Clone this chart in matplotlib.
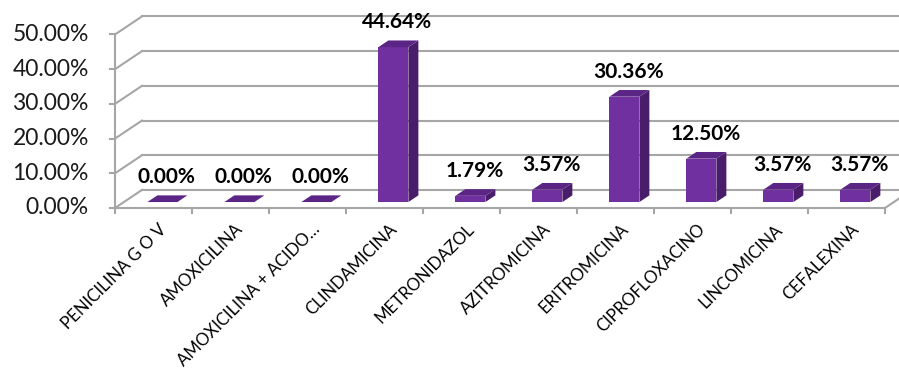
import matplotlib.pyplot as plt
from matplotlib.patches import Polygon

categorias = ["PENICILINA G O V", "AMOXICILINA", "AMOXICILINA + ACIDO…",
              "CLINDAMICINA", "METRONIDAZOL", "AZITROMICINA", "ERITROMICINA",
              "CIPROFLOXACINO", "LINCOMICINA", "CEFALEXINA"]
porcentajes = [0.00, 0.00, 0.00, 44.64, 1.79, 3.57, 30.36, 12.50, 3.57, 3.57]
ticks_y = [0, 10, 20, 30, 40, 50]

FRENTE = "#7030A0"
LADO = "#4A1D6B"
TECHO = "#5B2585"
GRIS = "#A6A6A6"
FUENTE = "Lato"

# profundidad del piso (en unidades de categoria y de porcentaje)
DX, DY = 0.35, 5.2
# posicion y grosor de cada barra dentro de esa profundidad
T0, T1 = 0.33, 0.70
ANCHO = 0.39

fig = plt.figure(figsize=(8.99, 3.73), dpi=100)
ax = fig.add_axes([0, 0, 1, 1])
ax.set_xlim(-1.4935, 10.182)
ax.set_ylim(-47.55, 59.94)
ax.axis("off")

n = len(categorias)

# pared del fondo y pared lateral
for t in ticks_y:
    ax.plot([DX, n + DX + 0.5], [t + DY, t + DY], color=GRIS, lw=1.5, zorder=1)
    ax.plot([0, DX], [t, t + DY], color=GRIS, lw=1.5, zorder=1)
    ax.plot([-0.06, 0], [t, t], color=GRIS, lw=1.5, zorder=1)
    ax.text(-0.34, t, f"{t:.2f}%", ha="right", va="center", fontsize=16.5,
            family=FUENTE, color="#1a1a1a")
ax.plot([0, 0], [0, ticks_y[-1]], color=GRIS, lw=1.5, zorder=1)

# piso
ax.plot([0, n], [0, 0], color=GRIS, lw=1.5, zorder=1)
ax.plot([n, n + DX], [0, DY], color=GRIS, lw=1.5, zorder=1)
for i in range(n + 1):
    ax.plot([i, i], [0, -1.5], color=GRIS, lw=1.5, zorder=1)

# barras 3D: frente, lado y techo
for i, v in enumerate(porcentajes):
    x0 = i + 0.5 - ANCHO / 2 + T0 * DX
    x1 = x0 + ANCHO
    y0 = T0 * DY
    dx = (T1 - T0) * DX
    dy = (T1 - T0) * DY
    frente = [(x0, y0), (x1, y0), (x1, y0 + v), (x0, y0 + v)]
    lado = [(x1, y0), (x1 + dx, y0 + dy), (x1 + dx, y0 + dy + v), (x1, y0 + v)]
    techo = [(x0, y0 + v), (x1, y0 + v), (x1 + dx, y0 + dy + v), (x0 + dx, y0 + dy + v)]
    ax.add_patch(Polygon(lado, closed=True, fc=LADO, ec="none", zorder=3))
    ax.add_patch(Polygon(frente, closed=True, fc=FRENTE, ec="none", zorder=3))
    ax.add_patch(Polygon(techo, closed=True, fc=TECHO, ec="none", zorder=3))
    ax.text((x0 + x1) / 2 + 0.05, y0 + dy + v + 5.2, f"{v:.2f}%", ha="center",
            va="center", fontsize=15, fontweight="bold", family=FUENTE, color="black")

# etiquetas de categoria
for i, c in enumerate(categorias):
    ax.text(i + 0.56, -3.8, c, rotation=45, ha="right", va="top",
            rotation_mode="anchor", fontsize=12.2, family=FUENTE, color="black")

fig.savefig("out.png", dpi=100)
